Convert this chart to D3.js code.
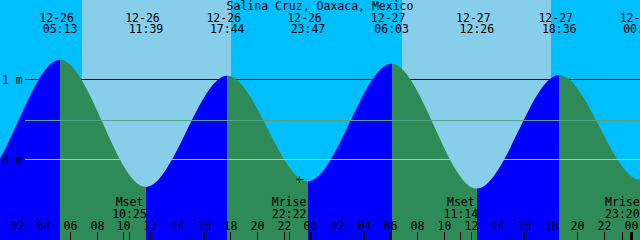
<!DOCTYPE html>
<html>
<head>
<meta charset="utf-8">
<script src="https://cdn.jsdelivr.net/npm/d3@7"></script>
<style>
  html, body { margin: 0; padding: 0; background: #fff; }
  svg { display: block; }
  text { font-family: "DejaVu Sans Mono", monospace; font-size: 11.5px; fill: #000; }
</style>
</head>
<body>
<svg width="640" height="240"></svg>
<script>
width = 640
height = 240

// tide extremes (high / low), metres; first and last lie outside the window
tideTimes = ["2023-12-25 16:55", "2023-12-25 22:55", "2023-12-26 05:13", "2023-12-26 11:39",
  "2023-12-26 17:44", "2023-12-26 23:47", "2023-12-27 06:03", "2023-12-27 12:26",
  "2023-12-27 18:36", "2023-12-28 00:41", "2023-12-28 06:50"]
tideLevels = [1.05, -0.30, 1.24, -0.35, 1.04, -0.28, 1.19, -0.37, 1.05, -0.26, 1.15]

sunrise = ["2023-12-26 06:50", "2023-12-27 06:50"]
sunset = ["2023-12-26 18:01", "2023-12-27 18:01"]

moonTimes = ["2023-12-26 10:25", "2023-12-26 22:22", "2023-12-27 11:14", "2023-12-27 23:20"]
moonLabels = ["Mset", "Mrise", "Mset", "Mrise"]

levelTicks = [1, 0]
meanLevel = 0.49
nowTime = "2023-12-26 23:11"
nowLevel = -0.25

title = "Salina Cruz, Oaxaca, Mexico"
startTime = "2023-12-26 00:43"
endTime = "2023-12-28 00:39"

parse = d3.timeParse("%Y-%m-%d %H:%M")

x = d3.scaleTime()
  .domain([parse(startTime), parse(endTime)])
  .range([0, width])

y = d3.scaleLinear()
  .domain([-1.0125, 1.9875])
  .range([height, 0])

px = v => Math.floor(x(v)) + 0.5
py = v => Math.round(y(v)) + 0.5

tides = tideTimes.map((t, i) => ({ date: parse(t), level: tideLevels[i] }))

chart = function() {
  const svg = d3.select("svg")

  // night / day background
  svg.append("rect")
      .attr("width", width).attr("height", height)
      .attr("fill", "#00bfff")

  svg.append("g")
    .selectAll("rect")
    .data(sunrise.map((d, i) => [parse(d), parse(sunset[i])]))
    .enter().append("rect")
      .attr("x", d => Math.round(x(d[0])))
      .attr("width", d => Math.round(x(d[1])) - Math.round(x(d[0])))
      .attr("y", 0).attr("height", height)
      .attr("fill", "#87ceeb")
      .attr("shape-rendering", "crispEdges")

  // 1 m line sits behind the water
  svg.append("line")
      .attr("x1", 25).attr("x2", width)
      .attr("y1", py(1)).attr("y2", py(1))
      .attr("stroke", "#000")
      .attr("shape-rendering", "crispEdges")

  const area = d3.area()
      .x(d => x(d.date))
      .y0(height)
      .y1(d => y(d.level))
      .curve(d3.curveMonotoneX)

  const defs = svg.append("defs")
  const segs = d3.pairs(tides)
  segs.forEach((s, i) => {
    defs.append("clipPath").attr("id", "seg" + i)
      .append("rect")
        .attr("x", Math.round(x(s[0].date)))
        .attr("width", Math.round(x(s[1].date)) - Math.round(x(s[0].date)))
        .attr("y", 0).attr("height", height)
  })

  svg.append("g")
    .selectAll("path")
    .data(segs)
    .enter().append("path")
      .attr("clip-path", (d, i) => `url(#seg${i})`)
      .attr("fill", d => d[1].level > d[0].level ? "#0000ff" : "#2e8b57")
      .attr("d", area(tides))

  // mean and datum lines drawn over the water
  svg.append("line")
      .attr("x1", 25).attr("x2", width)
      .attr("y1", py(meanLevel)).attr("y2", py(meanLevel))
      .attr("stroke", "#52a48c")
      .attr("shape-rendering", "crispEdges")

  svg.append("line")
      .attr("x1", 25).attr("x2", width)
      .attr("y1", py(0)).attr("y2", py(0))
      .attr("stroke", "#87ceeb")
      .attr("shape-rendering", "crispEdges")

  svg.append("g")
    .selectAll("text")
    .data(levelTicks)
    .enter().append("text")
      .attr("x", 2)
      .attr("y", d => Math.round(y(d)) + 5)
      .text(d => d + " m")

  // current time mark
  const nx = px(parse(nowTime)), ny = py(nowLevel)
  svg.append("path")
      .attr("d", `M${nx - 4},${ny}H${nx + 4}M${nx},${ny - 4}V${ny + 3}`)
      .attr("stroke", "#000")
      .attr("shape-rendering", "crispEdges")

  svg.append("text")
      .attr("x", width / 2).attr("y", 10)
      .attr("text-anchor", "middle")
      .text(title)

  // labels only for extremes that reach into the window
  const ev = svg.append("g")
    .selectAll("g")
    .data(tides.filter(d => x(d.date) > -10 && x(d.date) < width + 10))
    .enter().append("g")
      .attr("text-anchor", "middle")

  ev.append("text")
      .attr("x", d => x(d.date) - 3.5).attr("y", 22)
      .text(d => d3.timeFormat("%m-%d")(d.date))

  ev.append("text")
      .attr("x", d => x(d.date)).attr("y", 33)
      .text(d => d3.timeFormat("%H:%M")(d.date))

  // moon events
  const moon = svg.append("g")
    .selectAll("g")
    .data(moonTimes.map((t, i) => ({ date: parse(t), label: moonLabels[i] })))
    .enter().append("g")
      .attr("text-anchor", "middle")

  moon.append("text")
      .attr("x", d => x(d.date)).attr("y", 206)
      .text(d => d.label)

  moon.append("text")
      .attr("x", d => x(d.date)).attr("y", 218)
      .text(d => d3.timeFormat("%H:%M")(d.date))

  moon.append("line")
      .attr("x1", d => px(d.date)).attr("x2", d => px(d.date))
      .attr("y1", 232).attr("y2", height)
      .attr("stroke", "#000")
      .attr("shape-rendering", "crispEdges")

  // hour axis
  const hours = x.ticks(d3.timeHour.every(2))
  const hr = svg.append("g")
    .selectAll("g")
    .data(hours)
    .enter().append("g")

  hr.append("text")
      .attr("x", d => px(d)).attr("y", 230)
      .attr("text-anchor", "middle")
      .text(d3.timeFormat("%H"))

  hr.append("line")
      .attr("x1", d => px(d)).attr("x2", d => px(d))
      .attr("y1", 232).attr("y2", height)
      .attr("stroke", "#000")
      .attr("stroke-width", d => d.getHours() === 0 ? 3 : 1)
      .attr("shape-rendering", "crispEdges")

  return svg.node()
}

chart()
</script>
</body>
</html>
